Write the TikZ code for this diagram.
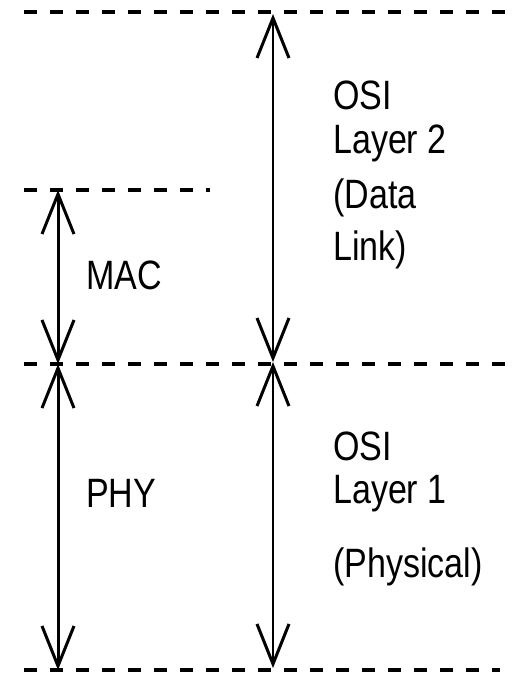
\documentclass[tikz,border=0pt]{standalone}
\usepackage{fontspec}
\setmainfont{Liberation Sans}[FakeStretch=0.83]
\usetikzlibrary{arrows.meta}
\begin{document}
\begin{tikzpicture}[x=1pt,y=-1pt,
  sep/.style={dash pattern=on 13pt off 13pt, line width=3.5pt},
  vtip/.tip={Straight Barb[length=40pt,width=32pt,line width=3pt]},
  span/.style={vtip-vtip},
  lbl/.style={anchor=base west, inner sep=0pt, font=\fontsize{41}{41}\selectfont}]
\useasboundingbox (0,0) rectangle (512,673);
% level coordinates
\coordinate (topL) at (24,12);   \coordinate (topR) at (512,12);
\coordinate (macL) at (24,190);  \coordinate (macR) at (210,190);
\coordinate (midL) at (24,364);  \coordinate (midR) at (512,364);
\coordinate (botL) at (24,670);  \coordinate (botR) at (500,670);
% separators
\draw[sep] (topL) -- (topR);
\draw[sep] (macL) -- (macR);
\draw[sep] (midL) -- (midR);
\draw[sep] (botL) -- (botR);
% left spans
\coordinate (lA) at (58,190);
\coordinate (lB) at (58,364);
\coordinate (lC) at (58,670);
\draw[span, line width=3pt] (lA) -- (lB);
\draw[span, line width=3pt] (lB) -- (lC);
% right spans
\coordinate (rA) at (273,14);
\coordinate (rB) at (273,362);
\coordinate (rC) at (273,668);
\draw[span, line width=2pt] (rA) -- (rB);
\draw[span, line width=2pt] (rB) -- (rC);
% labels
\node[lbl] (mac) at (86,289) {MAC};
\node[lbl] (phy) at (86,507) {PHY};
\node[lbl] (osi2) at (333,109) {OSI};
\node[lbl] (lay2) at (333,153) {Layer 2};
\node[lbl] (data) at (333,208) {(Data};
\node[lbl] (link) at (333,260) {Link)};
\node[lbl] (osi1) at (333,460) {OSI};
\node[lbl] (lay1) at (333,503) {Layer 1};
\node[lbl] (phys) at (333,577) {(Physical)};
\end{tikzpicture}
\end{document}
